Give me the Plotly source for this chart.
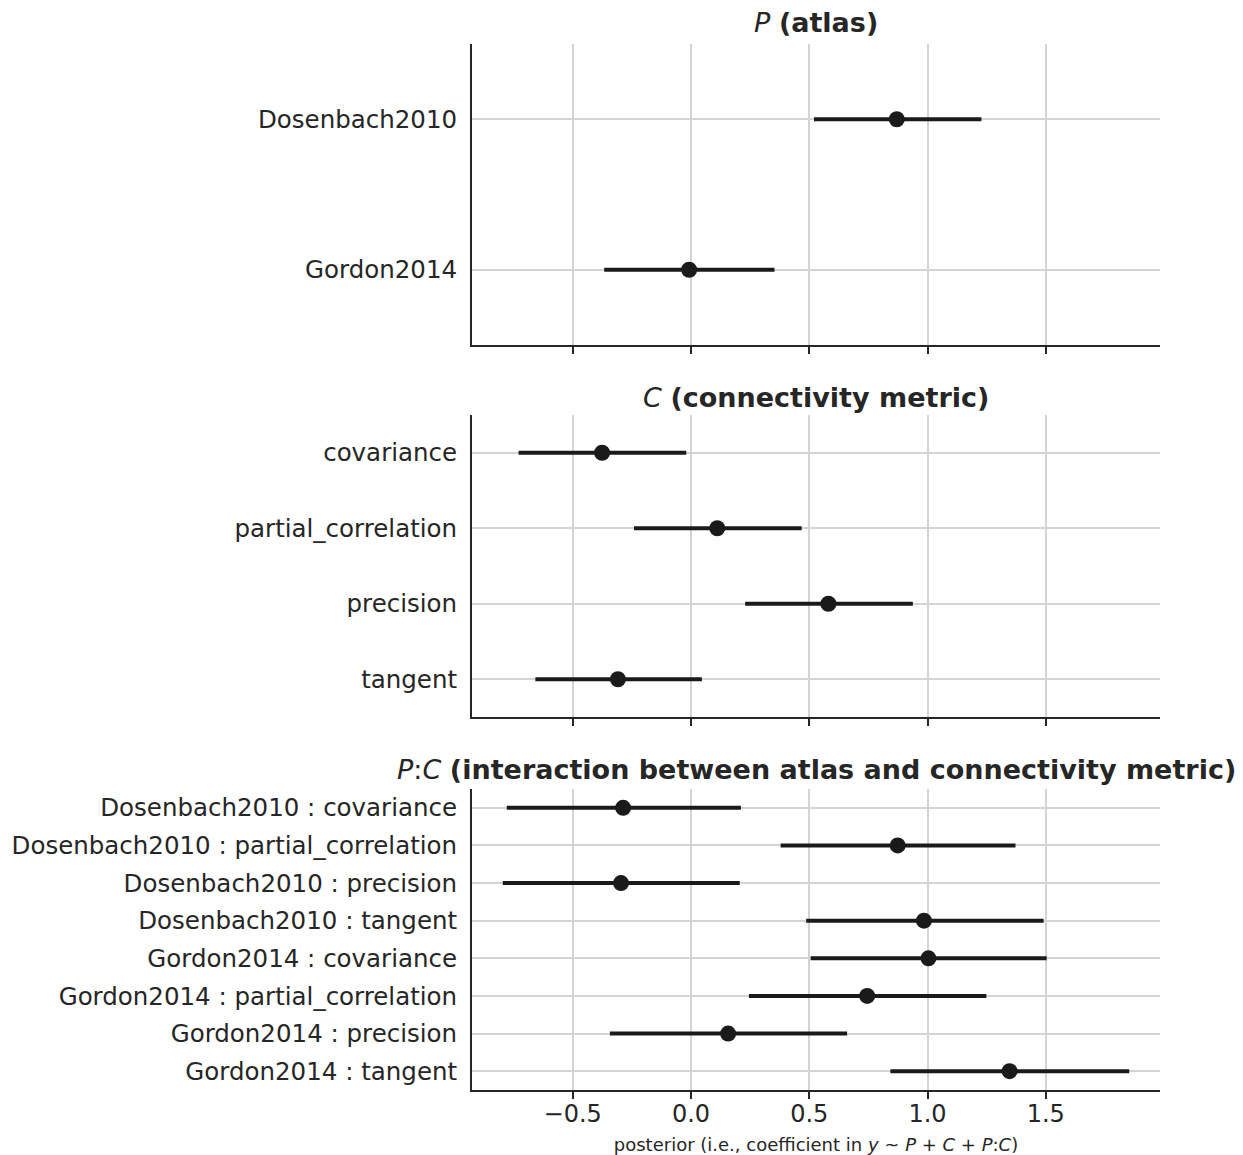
import plotly.graph_objects as go

# ---- data ----
atlas_labels = ["Dosenbach2010", "Gordon2014"]
atlas_mean = [0.870, -0.008]
atlas_lo = [0.520, -0.367]
atlas_hi = [1.228, 0.353]

conn_labels = ["covariance", "partial_correlation", "precision", "tangent"]
conn_mean = [-0.376, 0.111, 0.581, -0.309]
conn_lo = [-0.729, -0.241, 0.229, -0.658]
conn_hi = [-0.020, 0.468, 0.938, 0.046]

inter_labels = [
    "Dosenbach2010 : covariance",
    "Dosenbach2010 : partial_correlation",
    "Dosenbach2010 : precision",
    "Dosenbach2010 : tangent",
    "Gordon2014 : covariance",
    "Gordon2014 : partial_correlation",
    "Gordon2014 : precision",
    "Gordon2014 : tangent",
]
inter_mean = [-0.287, 0.874, -0.296, 0.985, 1.004, 0.745, 0.157, 1.347]
inter_lo = [-0.779, 0.379, -0.796, 0.487, 0.506, 0.245, -0.343, 0.843]
inter_hi = [0.211, 1.372, 0.206, 1.491, 1.504, 1.249, 0.660, 1.853]

x_ticks = [-0.5, 0.0, 0.5, 1.0, 1.5]
x_ticktext = ["\u22120.5", "0.0", "0.5", "1.0", "1.5"]

titles = [
    "<i>P</i> <b>(atlas)</b>",
    "<i>C</i> <b>(connectivity metric)</b>",
    "<i>P</i>:<i>C</i> <b>(interaction between atlas and connectivity metric)</b>",
]

# ---- figure ----
W, H = 1243, 1155
ML, MR, MT, MB = 472, 83, 44, 65
PH = H - MT - MB
domains = [
    [(1090 - 345) / PH, 1.0],
    [(1090 - 717) / PH, (1090 - 415) / PH],
    [0.0, (1090 - 789) / PH],
]
title_y = [(1090 - 23) / PH, (1090 - 397) / PH, (1090 - 769) / PH]

INK = "#1a1a1a"
TXT = "#262626"
GRID = "#d4d4d4"
FONT = "DejaVu Sans"
xr = [(472 - 691) / 236.5, (1160 - 691) / 236.5]

fig = go.Figure()
panels = [
    (atlas_labels, atlas_mean, atlas_lo, atlas_hi),
    (conn_labels, conn_mean, conn_lo, conn_hi),
    (inter_labels, inter_mean, inter_lo, inter_hi),
]

for i, (labs, m, lo, hi) in enumerate(panels):
    k = "" if i == 0 else str(i + 1)
    xs, ys = [], []
    for lab, a, b in zip(labs, lo, hi):
        xs += [a, b, None]
        ys += [lab, lab, None]
    fig.add_trace(go.Scatter(x=xs, y=ys, mode="lines", line=dict(color=INK, width=4),
                             xaxis="x" + k, yaxis="y" + k, showlegend=False, hoverinfo="skip"))
    fig.add_trace(go.Scatter(x=m, y=labs, mode="markers", marker=dict(color=INK, size=16),
                             xaxis="x" + k, yaxis="y" + k, showlegend=False))
    n = len(labs)
    fig.update_layout(**{
        "xaxis" + k: dict(
            domain=[0, 1], anchor="y" + k, range=xr, tickvals=x_ticks, ticktext=x_ticktext,
            showticklabels=(i == 2), ticks="outside", ticklen=7, tickwidth=1.5, tickcolor=TXT,
            showgrid=True, gridcolor=GRID, gridwidth=1.5, zeroline=False,
            showline=True, linecolor=TXT, linewidth=2, automargin=False,
            tickfont=dict(family=FONT, size=24, color=TXT),
        ),
        "yaxis" + k: dict(
            domain=domains[i], anchor="x" + k, type="category",
            categoryorder="array", categoryarray=labs, range=[n - 0.5, -0.5],
            showgrid=True, gridcolor=GRID, gridwidth=1.5, zeroline=False,
            showline=True, linecolor=TXT, linewidth=2, ticks="", ticklabelstandoff=8,
            automargin=False,
            tickfont=dict(family=FONT, size=24.5, color=TXT),
        ),
    })
    fig.add_annotation(text=titles[i], xref="paper", yref="paper", x=0.5, y=title_y[i],
                       xanchor="center", yanchor="middle", showarrow=False,
                       font=dict(family=FONT, size=27, color=TXT))

fig.update_layout(
    xaxis3=dict(ticklabelstandoff=-6,
                title=dict(text="posterior (i.e., coefficient in <i>y</i> ~ <i>P</i> + <i>C</i> + <i>P</i>:<i>C</i>)",
                           font=dict(family=FONT, size=18, color=TXT), standoff=14)),
)

fig.update_layout(
    width=W, height=H,
    margin=dict(l=ML, r=MR, t=MT, b=MB),
    plot_bgcolor="white", paper_bgcolor="white",
    font=dict(family=FONT, color=TXT),
)

fig.write_html("out.html")
